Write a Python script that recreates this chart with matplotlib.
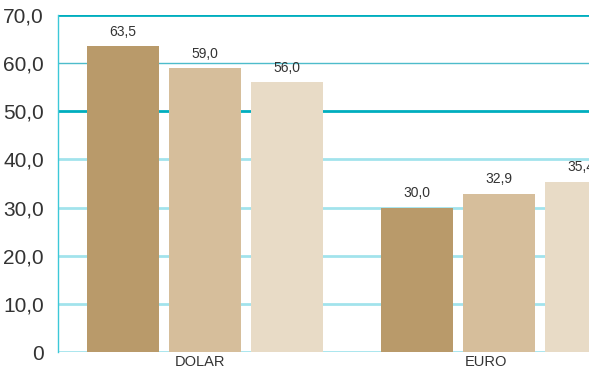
import matplotlib.pyplot as plt
import numpy as np

# Data
categories = ["DOLAR", "EURO"]
series_a = [63.5, 30.0]
series_b = [59.0, 32.9]
series_c = [56.0, 35.4]
value_labels = [["63,5", "30,0"], ["59,0", "32,9"], ["56,0", "35,4"]]
y_ticks = [0, 10, 20, 30, 40, 50, 60, 70]
y_tick_labels = ["0", "10,0", "20,0", "30,0", "40,0", "50,0", "60,0", "70,0"]

plt.rcParams["font.family"] = ["Liberation Sans", "DejaVu Sans"]

colors = ["#B99A6A", "#D6BE9B", "#E8DBC6"]
text_color = "#333333"

fig = plt.figure(figsize=(5.89, 3.72), dpi=100)
ax = fig.add_axes([58 / 589, 20 / 372, 1 - 58 / 589, 337 / 372])

x = np.arange(len(categories))
step = 82 / 294
width = 72 / 294

# gridlines
for v in y_ticks:
    if v in (50, 70):
        ax.axhline(v, color="#00AEBE", lw=2.0, zorder=1)
    elif v == 60:
        ax.axhline(v, color="#4DBCCB", lw=1.0, zorder=1)
    else:
        ax.axhline(v, color="#A2E3EC", lw=2.0, zorder=1)

for i, vals in enumerate([series_a, series_b, series_c]):
    pos = x + (i - 1) * step
    ax.bar(pos, vals, width=width, color=colors[i], zorder=2)
    for p, v, lab in zip(pos, vals, value_labels[i]):
        ax.text(p, v + 1.5, lab, ha="center", va="bottom", fontsize=10,
                color=text_color, clip_on=False)

ax.set_xlim(-0.5, 1.306)
ax.set_ylim(0, 70)
ax.set_yticks(y_ticks)
ax.set_yticklabels(y_tick_labels, fontsize=15, color=text_color)
# category labels sit slightly left of the group centres
ax.set_xticks(x + np.array([-0.017, -0.044]))
ax.set_xticklabels(categories, fontsize=10.5, color=text_color)
ax.tick_params(axis="y", length=0, pad=10)
ax.tick_params(axis="x", length=0, pad=2)

for s in ["top", "right", "bottom"]:
    ax.spines[s].set_visible(False)
ax.spines["left"].set_color("#3CC8D8")
ax.spines["left"].set_linewidth(1.0)
ax.spines["left"].set_zorder(3)

fig.savefig("out.png", dpi=100)
